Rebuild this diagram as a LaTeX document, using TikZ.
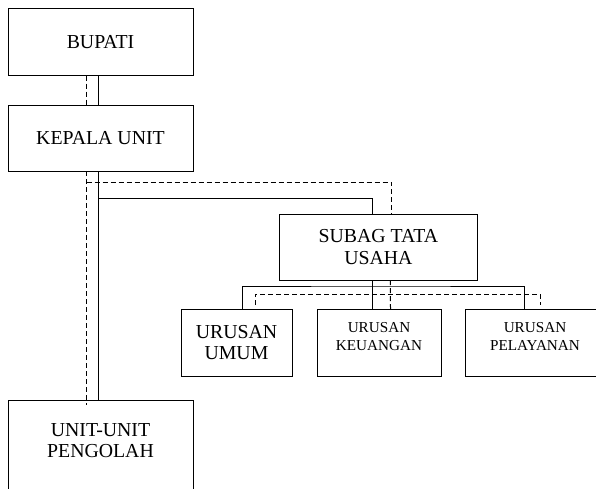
\documentclass[tikz,border=0pt]{standalone}
\usepackage{fontspec}
\setmainfont{Liberation Serif}
\usepackage{tikz}

\begin{document}
\begin{tikzpicture}[x=1pt,y=-1pt,
every node/.style = {shape=rectangle, draw, line width=1pt,
	align=center, inner sep=0pt, outer sep=0pt,
	font=\fontsize{19.8}{21.7}\selectfont},
small/.style = {font=\fontsize{15.2}{18}\selectfont},
link/.style = {line width=1pt},
dlink/.style = {line width=1pt, dash pattern=on 5pt off 3pt}]

\useasboundingbox (0,0) rectangle (596,489);

\node[minimum width=185, minimum height=66.6] (bupati) at (100.5,42.3) {BUPATI};
\node[minimum width=185, minimum height=65] (kepala) at (100.5,138.5) {KEPALA UNIT};
\node[minimum width=198.7, minimum height=66] (subag) at (378.4,247) {SUBAG TATA\\USAHA};
\node[minimum width=111, minimum height=67] (umum) at (236.5,342.5) {URUSAN\\UMUM};
\node[small, minimum width=124, minimum height=67] (keu) at (379,342.5) {URUSAN\\KEUANGAN\\[-6pt]};
\node[small, minimum width=140, minimum height=67] (pel) at (535,342.5) {URUSAN\\PELAYANAN\\[-6pt]};
\node[anchor=north, minimum width=185, minimum height=100] (unit) at (100.5,400) {UNIT-UNIT\\PENGOLAH\\[-3pt]};

\draw[link] ([xshift=-2.5pt]bupati.south) -- ([xshift=-2.5pt]kepala.north);
\draw[dlink] ([xshift=-14pt]bupati.south) -- ([xshift=-14pt]kepala.north);

\draw[link] ([xshift=-2.5pt]kepala.south) -- ([xshift=-2.5pt]unit.north);
\draw[link] ([xshift=-2.5pt,yshift=-27pt]kepala.south) -| ([xshift=-6.4pt]subag.north);
\draw[dlink] ([xshift=-14pt]kepala.south) -- ([xshift=-14pt,yshift=-5pt]unit.north);
\draw[dlink] ([xshift=-14pt,yshift=-11pt]kepala.south) -| ([xshift=13pt]subag.north);

\draw[link] ([xshift=-6.4pt]subag.south) -- ([xshift=-7pt]keu.north);
\draw[link] ([xshift=5.5pt]umum.north) |- ([yshift=-6pt]subag.south) -| ([xshift=-11pt]pel.north);
\draw[dlink] ([xshift=12pt]subag.south) -- ([xshift=11.5pt]keu.north);
\draw[dlink] ([xshift=18.5pt,yshift=4pt]umum.north) |- ([yshift=-14pt]subag.south) -| ([xshift=5pt,yshift=4pt]pel.north);
\end{tikzpicture}
\end{document}
